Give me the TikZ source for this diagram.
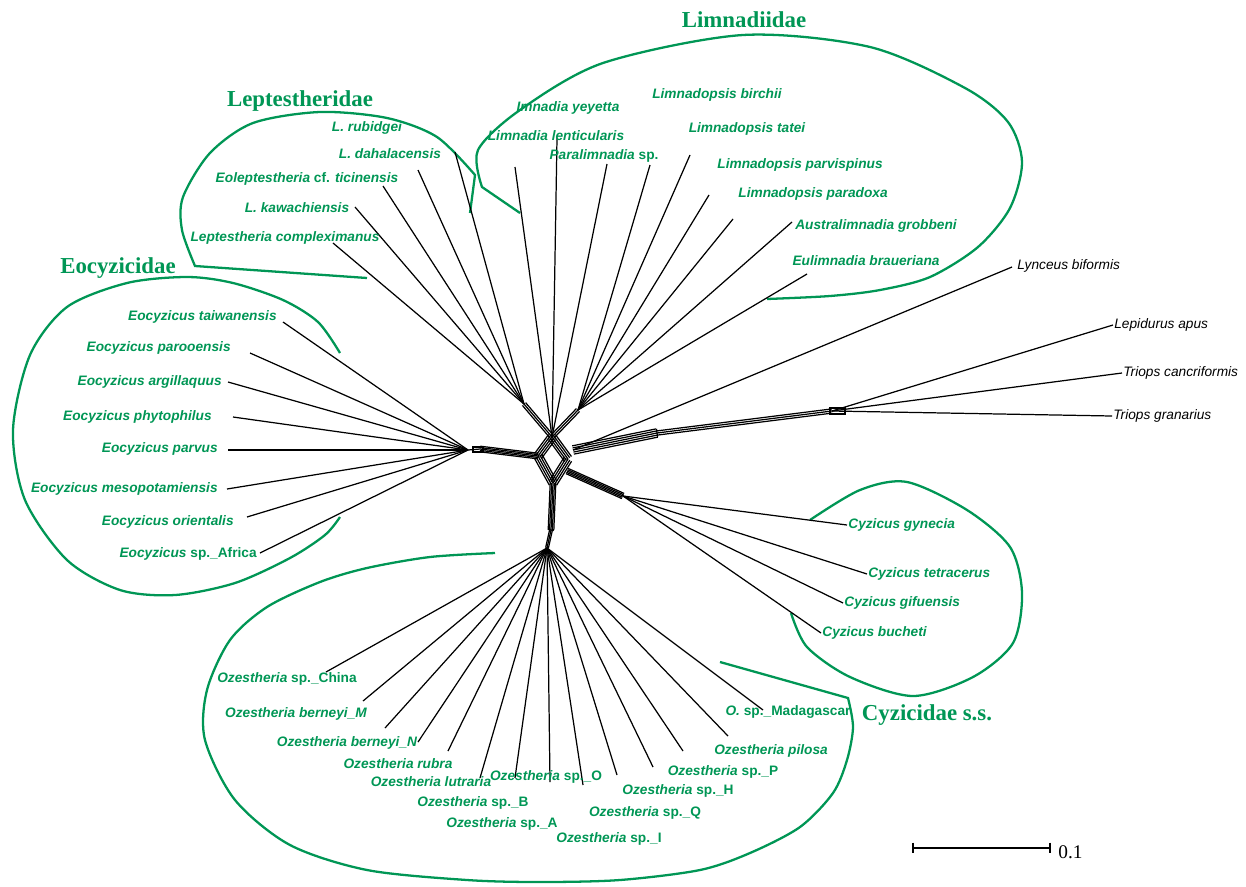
\documentclass[tikz,border=0pt]{standalone}
\usepackage{fontspec}
\newfontfamily\labfont{Liberation Sans}
\newfontfamily\titfont{Liberation Serif}
\usetikzlibrary{calc}
\definecolor{cladegreen}{RGB}{0,150,85}
\tikzset{
  taxon/.style={font=\labfont\bfseries\itshape\fontsize{7.8}{9}\selectfont, text=cladegreen, inner sep=0pt},
  outgroup/.style={font=\labfont\itshape\fontsize{7.8}{9}\selectfont, inner sep=0pt},
  family/.style={font=\titfont\bfseries\fontsize{13}{15}\selectfont, text=cladegreen, inner sep=0pt},
  branch/.style={line width=0.7pt},
  clade/.style={draw=cladegreen, line width=1.3pt},
}
% parallel edges of the splits graph
\newcommand{\bund}[3]{\foreach \o in {#3}{\draw[branch] ($(#1)!\o!90:(#2)$) -- ($(#2)!\o!-90:(#1)$);}}

\begin{document}
\begin{tikzpicture}[x=0.02cm, y=-0.02cm]
\useasboundingbox (0,0) rectangle (1246,886);

% clade outlines
\draw[clade] (470,213) -- plot[smooth] coordinates {(475,175) (437,137) (387,118) (320,112) (253,123) (210,153) (183,197) (182,230) (195,266)} -- (367,278);
\draw[clade] (520,213) -- plot[smooth] coordinates {(482,187) (478,150) (520,110) (603,63) (743,35) (870,47) (965,88) (1008,122) (1022,162) (1010,208) (978,247) (930,277) (880,290) (830,296) (767,299)};
\draw[clade] plot[smooth] coordinates {(340,353) (318,322) (283,300) (233,283) (187,277) (127,283) (67,307) (30,355) (13,430) (25,500) (67,560) (120,590) (175,595) (235,583) (290,558) (325,535) (340,517)};
\draw[clade] plot[smooth] coordinates {(810,520) (860,490) (907,482) (967,510) (1010,547) (1022,593) (1013,643) (973,677) (913,696) (850,677) (807,647) (791,613)};
\draw[clade] (720,662) -- plot[smooth] coordinates {(848,698) (853,727) (847,760) (833,793) (800,827) (750,853) (700,870) (620,880) (540,882) (467,880) (367,870) (290,845) (235,800) (205,740) (207,690) (230,640) (267,607) (320,582) (367,568) (430,557) (495,553)};

\node[family] (lepT) at (300,101) {Leptestheridae};
\node[family] (limT) at (744,20) {Limnadiidae};
\node[family] (eocT) at (118,268) {Eocyzicidae};
\node[family] (cyzT) at (927,715) {Cyzicidae s.s.};

% internal nodes
\coordinate (eH) at (468,450);
\coordinate (eB) at (480,449);
\coordinate (dL) at (538,456);
\coordinate (dT) at (552,437);
\coordinate (dB) at (553,483);
\coordinate (dR) at (568,459);
\coordinate (lpH) at (524,404);
\coordinate (lmH) at (578,410);
\coordinate (rS) at (573,450);
\coordinate (rb) at (657,433);
\coordinate (tH) at (832,411);
\coordinate (cS) at (567,471);
\coordinate (cH) at (623,496);
\coordinate (ob) at (551,530);
\coordinate (oH) at (547,548);

\bund{eB}{dL}{-1.6pt,-0.8pt,0pt,0.8pt,1.6pt}
\bund{lpH}{dT}{-1.2pt,0pt,1.2pt}
\bund{lmH}{dT}{-1.2pt,0pt,1.2pt}
\bund{dT}{dL}{-2.4pt,-1.2pt,0pt,1.2pt,2.4pt}
\bund{dL}{dB}{-2.4pt,-1.2pt,0pt,1.2pt,2.4pt}
\bund{dT}{dR}{-2.4pt,-1.2pt,0pt,1.2pt,2.4pt}
\bund{dR}{dB}{-2.4pt,-1.2pt,0pt,1.2pt,2.4pt}
\bund{rS}{rb}{-2.4pt,-1.2pt,0pt,1.2pt,2.4pt}
\bund{rb}{tH}{-1.2pt,0pt,1.2pt}
\bund{cS}{cH}{-1.6pt,-0.8pt,0pt,0.8pt,1.6pt}
\bund{dB}{ob}{-1.6pt,-0.8pt,0pt,0.8pt,1.6pt}
\bund{ob}{oH}{-0.8pt,0pt,0.8pt}
\draw[branch] (eH) -- (eB);
\draw[branch] (473,447) rectangle (483,452);
\draw[branch] (830,408) rectangle (845,414);
\draw[branch] ($(rb)!-2.4pt!90:(tH)$) -- ($(rb)!2.4pt!90:(tH)$);
\draw[branch] ($(ob)!-1.6pt!90:(oH)$) -- ($(ob)!1.6pt!90:(oH)$);

% Eocyzicidae
\coordinate (e1) at (283,322);
\coordinate (e2) at (250,353);
\coordinate (e3) at (228,382);
\coordinate (e4) at (233,417);
\coordinate (e5) at (228,450);
\coordinate (e6) at (227,489);
\coordinate (e7) at (247,517);
\coordinate (e8) at (260,553);
\foreach \t in {e1,e2,e3,e4,e5,e6,e7,e8} \draw[branch] (\t) -- (eH);
\node[taxon, anchor=east] (e1L) at (277,317) {Eocyzicus taiwanensis};
\node[taxon, anchor=east] (e2L) at (231,348) {Eocyzicus parooensis};
\node[taxon, anchor=east] (e3L) at (222,382) {Eocyzicus argillaquus};
\node[taxon, anchor=east] (e4L) at (212,417) {Eocyzicus phytophilus};
\node[taxon, anchor=east] (e5L) at (218,449) {Eocyzicus parvus};
\node[taxon, anchor=east] (e6L) at (218,489) {Eocyzicus mesopotamiensis};
\node[taxon, anchor=east] (e7L) at (234,522) {Eocyzicus orientalis};
\node[taxon, anchor=east] (e8L) at (257,554) {Eocyzicus {\upshape sp.\_Africa}};

% Leptestheridae
\coordinate (lp1) at (455,152);
\coordinate (lp2) at (418,170);
\coordinate (lp3) at (383,186);
\coordinate (lp4) at (355,207);
\coordinate (lp5) at (333,243);
\foreach \t in {lp1,lp2,lp3,lp4,lp5} \draw[branch] (\t) -- (lpH);
\node[taxon] (lp1L) at (367,128) {L. rubidgei};
\node[taxon] (lp2L) at (390,154) {L. dahalacensis};
\node[taxon] (lp3L) at (307,179) {Eoleptestheria {\upshape cf.} ticinensis};
\node[taxon] (lp4L) at (297,208) {L. kawachiensis};
\node[taxon] (lp5L) at (285,238) {Leptestheria compleximanus};

% Limnadiidae
\coordinate (ln1) at (515,167);
\coordinate (ln2) at (557,138);
\coordinate (ln3) at (607,164);
\coordinate (ln4) at (650,165);
\coordinate (ln5) at (690,155);
\coordinate (ln6) at (709,195);
\coordinate (ln7) at (733,219);
\coordinate (ln8) at (792,222);
\coordinate (ln9) at (807,274);
\foreach \t in {ln1,ln2,ln3} \draw[branch] (\t) -- (dT);
\foreach \t in {ln4,ln5,ln6,ln7,ln8,ln9} \draw[branch] (\t) -- (lmH);
\node[taxon] (ln1L) at (568,108) {Imnadia yeyetta};
\node[taxon] (ln2L) at (556,136) {Limnadia lenticularis};
\node[taxon] (ln3L) at (604,156) {Paralimnadia {\upshape sp.}};
\node[taxon] (ln4L) at (717,95) {Limnadopsis birchii};
\node[taxon] (ln5L) at (747,129) {Limnadopsis tatei};
\node[taxon] (ln6L) at (800,165) {Limnadopsis parvispinus};
\node[taxon] (ln7L) at (813,194) {Limnadopsis paradoxa};
\node[taxon] (ln8L) at (876,226) {Australimnadia grobbeni};
\node[taxon] (ln9L) at (866,261) {Eulimnadia braueriana};

% outgroups
\coordinate (lyn) at (1012,267);
\coordinate (lep) at (1113,325);
\coordinate (tca) at (1122,373);
\coordinate (tgr) at (1112,416);
\draw[branch] (lyn) -- (rS);
\draw[branch] (lep) -- (tH);
\draw[branch] (tca) -- (tH);
\draw[branch] (tgr) -- (tH);
\node[outgroup, anchor=west] (lynL) at (1017,266) {Lynceus biformis};
\node[outgroup, anchor=west] (lepL) at (1114,325) {Lepidurus apus};
\node[outgroup, anchor=west] (tcaL) at (1123,373) {Triops cancriformis};
\node[outgroup, anchor=west] (tgrL) at (1113,416) {Triops granarius};

% Cyzicidae s.s.
\coordinate (cy1) at (847,525);
\coordinate (cy2) at (867,574);
\coordinate (cy3) at (843,603);
\coordinate (cy4) at (821,633);
\foreach \t in {cy1,cy2,cy3,cy4} \draw[branch] (\t) -- (cH);
\node[taxon, anchor=west] (cy1L) at (848,525) {Cyzicus gynecia};
\node[taxon, anchor=west] (cy2L) at (868,574) {Cyzicus tetracerus};
\node[taxon, anchor=west] (cy3L) at (844,603) {Cyzicus gifuensis};
\node[taxon, anchor=west] (cy4L) at (822,633) {Cyzicus bucheti};

% Ozestheria
\coordinate (oz1) at (326,672);
\coordinate (oz2) at (363,701);
\coordinate (oz3) at (385,728);
\coordinate (oz4) at (418,742);
\coordinate (oz5) at (448,751);
\coordinate (oz6) at (480,778);
\coordinate (oz7) at (515,778);
\coordinate (oz8) at (550,782);
\coordinate (oz9) at (583,785);
\coordinate (oz10) at (617,775);
\coordinate (oz11) at (653,767);
\coordinate (oz12) at (683,751);
\coordinate (oz13) at (728,736);
\coordinate (oz14) at (763,710);
\foreach \t in {oz1,oz2,oz3,oz4,oz5,oz6,oz7,oz8,oz9,oz10,oz11,oz12,oz13,oz14} \draw[branch] (\t) -- (oH);
\node[taxon] (oz1L) at (287,679) {Ozestheria {\upshape sp.\_China}};
\node[taxon] (oz2L) at (296,714) {Ozestheria berneyi\_M};
\node[taxon] (oz3L) at (347,743) {Ozestheria berneyi\_N};
\node[taxon] (oz4L) at (398,764) {Ozestheria rubra};
\node[taxon] (oz5L) at (431,782) {Ozestheria lutraria};
\node[taxon] (oz6L) at (473,803) {Ozestheria {\upshape sp.\_B}};
\node[taxon] (oz7L) at (502,824) {Ozestheria {\upshape sp.\_A}};
\node[taxon] (oz8L) at (546,777) {Ozestheria {\upshape sp.\_O}};
\node[taxon] (oz9L) at (609,839) {Ozestheria {\upshape sp.\_I}};
\node[taxon] (oz10L) at (645,813) {Ozestheria {\upshape sp.\_Q}};
\node[taxon] (oz11L) at (678,791) {Ozestheria {\upshape sp.\_H}};
\node[taxon] (oz12L) at (723,772) {Ozestheria {\upshape sp.\_P}};
\node[taxon] (oz13L) at (771,751) {Ozestheria pilosa};
\node[taxon] (oz14L) at (788,712) {O. {\upshape sp.\_Madagascar}};

% scale bar
\coordinate (sbA) at (913,848);
\coordinate (sbB) at (1050,848);
\draw[branch] (sbA) -- (sbB);
\draw[branch] ([yshift=3pt]sbA) -- ([yshift=-3pt]sbA);
\draw[branch] ([yshift=3pt]sbB) -- ([yshift=-3pt]sbB);
\node[font=\titfont\fontsize{11}{13}\selectfont, anchor=west, inner sep=0pt] (sbL) at (1058,852) {0.1};
\end{tikzpicture}
\end{document}
